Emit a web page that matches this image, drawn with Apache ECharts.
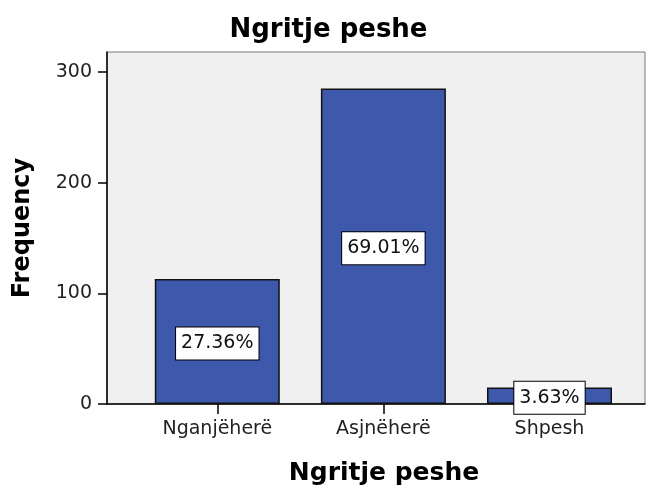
<!DOCTYPE html>
<html>
<head>
<meta charset="utf-8">
<script src="https://cdn.jsdelivr.net/npm/echarts@6/dist/echarts.min.js"></script>
<style>
html,body{margin:0;padding:0;background:#fff;}
#c{width:657px;height:491px;}
</style>
</head>
<body>
<div id="c"></div>
<script>
const chartTitle = "Ngritje peshe";
const xAxisName = "Ngritje peshe";
const yAxisName = "Frequency";
const categories = ["Nganjëherë", "Asjnëherë", "Shpesh"];
const frequencies = [113, 285, 15];
const percentLabels = ["27.36%", "69.01%", "3.63%"];
const yTicks = [0, 100, 200, 300];

const FONT = "DejaVu Sans, sans-serif";
const chart = echarts.init(document.getElementById('c'), null, {renderer: 'canvas'});
chart.setOption({
  backgroundColor: '#ffffff',
  animation: false,
  title: {
    text: chartTitle,
    left: 'center',
    top: 12,
    textStyle: {fontFamily: FONT, fontSize: 26, fontWeight: 'bold', color: '#000'}
  },
  grid: {
    left: 107, right: 12, top: 52, bottom: 87,
    show: true, backgroundColor: '#f0f0f0', borderColor: '#777', borderWidth: 1
  },
  xAxis: {
    type: 'value',
    min: -0.664,
    max: 2.575,
    name: xAxisName,
    nameLocation: 'middle',
    nameGap: 57,
    nameTextStyle: {fontFamily: FONT, fontSize: 25, fontWeight: 'bold', color: '#000', padding: [0, 0, 0, 16]},
    splitLine: {show: false},
    axisLine: {show: true, onZero: false, lineStyle: {color: '#000', width: 1.5}},
    axisTick: {show: true, customValues: [0, 1, 2], length: 10, lineStyle: {color: '#000', width: 1.5}},
    axisLabel: {
      customValues: [0, 1, 2],
      formatter: v => categories[Math.round(v)] || '',
      fontFamily: FONT, fontSize: 19, color: '#222', margin: 16
    }
  },
  yAxis: {
    type: 'value',
    min: 0,
    max: 318,
    name: yAxisName,
    nameLocation: 'middle',
    nameGap: 72,
    nameTextStyle: {fontFamily: FONT, fontSize: 24, fontWeight: 'bold', color: '#000'},
    splitLine: {show: false},
    axisLine: {show: true, onZero: false, lineStyle: {color: '#000', width: 1.5}},
    axisTick: {show: true, customValues: yTicks, length: 9, lineStyle: {color: '#000', width: 1.5}},
    axisLabel: {
      customValues: yTicks,
      fontFamily: FONT, fontSize: 19, color: '#222', margin: 15
    }
  },
  series: [{
    type: 'bar',
    barWidth: 125,
    data: frequencies.map((v, i) => [i, v]),
    itemStyle: {color: '#3e58ac', borderColor: '#111', borderWidth: 1.5},
    label: {
      show: true,
      position: 'inside',
      offset: [0, 2],
      formatter: p => percentLabels[p.dataIndex],
      fontFamily: FONT, fontSize: 19, color: '#111',
      backgroundColor: '#ffffff',
      borderColor: '#000', borderWidth: 1,
      padding: [7, 5, 6, 5]
    }
  }]
});
</script>
</body>
</html>
